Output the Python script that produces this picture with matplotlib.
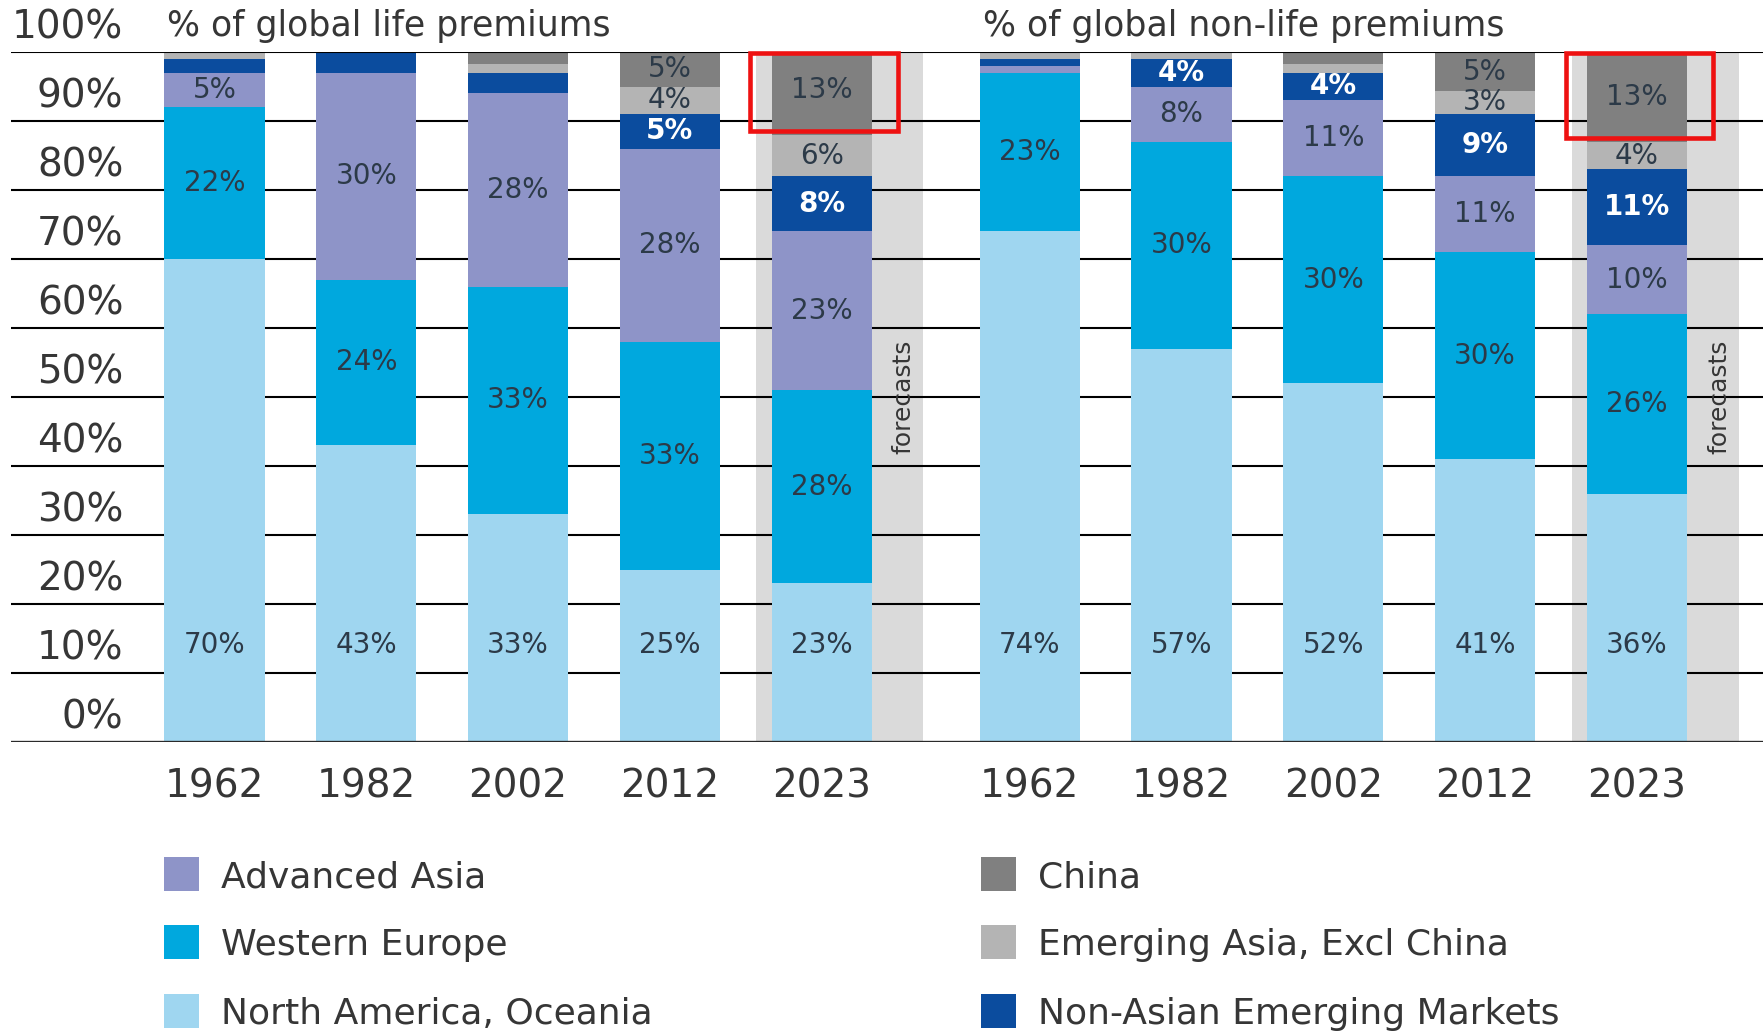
import numpy as np
import matplotlib.pyplot as plt
from matplotlib.patches import Rectangle
from matplotlib.transforms import blended_transform_factory

# Datos (en %), de abajo hacia arriba en cada barra
years = ['1962', '1982', '2002', '2012', '2023']
regions = ['North America, Oceania', 'Western Europe', 'Advanced Asia',
           'Non-Asian Emerging Markets', 'Emerging Asia, Excl China', 'China']

life_na = [70, 43, 33, 25, 23]
life_we = [22, 24, 33, 33, 28]
life_aa = [5, 30, 28, 28, 23]
life_naem = [2, 2.8, 2.9, 5, 8]
life_ea = [1, 0.2, 1.3, 4, 6]
life_cn = [0, 0, 1.8, 5, 13]

nonlife_na = [74, 57, 52, 41, 36]
nonlife_we = [23, 30, 30, 30, 26]
nonlife_aa = [1, 8, 11, 11, 10]
nonlife_naem = [1, 4, 4, 9, 11]
nonlife_ea = [1, 1, 1.3, 3.4, 4]
nonlife_cn = [0, 0, 1.7, 5.4, 13]

titles = ['% of global life premiums', '% of global non-life premiums']

colors = {
    'North America, Oceania': '#9fd6f0',
    'Western Europe': '#00a8de',
    'Advanced Asia': '#8e94c8',
    'Non-Asian Emerging Markets': '#0b4c9e',
    'Emerging Asia, Excl China': '#b4b4b4',
    'China': '#808080',
}
legend_cols = [['Advanced Asia', 'Western Europe', 'North America, Oceania'],
               ['China', 'Emerging Asia, Excl China', 'Non-Asian Emerging Markets']]

txt = '#363636'
W, H = 1763, 1032
fig = plt.figure(figsize=(W / 100, H / 100), dpi=100)
ax = fig.add_axes([11 / W, 1 - 742 / H, 1 - 11 / W, (742 - 52) / H])
ax.set_xlim(-1.34, 10.2)
ax.set_ylim(0, 100)
ax.axis('off')

panels = [
    (np.arange(5), [life_na, life_we, life_aa, life_naem, life_ea, life_cn]),
    (np.arange(5) + 5.37, [nonlife_na, nonlife_we, nonlife_aa, nonlife_naem, nonlife_ea, nonlife_cn]),
]

# lineas horizontales
for v in range(10, 100, 10):
    ax.axhline(v, color='black', lw=1.5, zorder=1)
ax.axhline(100, color='black', lw=1.5, zorder=5)
ax.axhline(0, color='#2a2a2a', lw=2.4, zorder=5)

# etiquetas del eje y
for v in range(0, 101, 10):
    ax.text(-0.6, v + 1.9, f'{v}%', ha='right', va='baseline', fontsize=28, color=txt)

xt = blended_transform_factory(ax.transData, ax.transAxes)
bw = 0.66
for (xs, series), title in zip(panels, titles):
    # banda de pronostico
    ax.add_patch(Rectangle((xs[-1] - 0.43, 0), 1.1, 100, color='#dadada', lw=0, zorder=0.5))
    ax.text(xs[-1] + 0.54, 50, 'forecasts', rotation=90, ha='center', va='center',
            fontsize=18, color=txt, zorder=6)
    bottom = np.zeros(len(xs))
    for name, vals in zip(regions, series):
        vals = np.array(vals, dtype=float)
        ax.bar(xs, vals, width=bw, bottom=bottom, color=colors[name], lw=0, zorder=2)
        for x, b, v in zip(xs, bottom, vals):
            if v < 3:
                continue
            y = 14 if name == regions[0] else b + v / 2
            white = name == 'Non-Asian Emerging Markets'
            ax.text(x, y, f'{v:.0f}%', ha='center', va='center', fontsize=20,
                    color='white' if white else '#2c3a48',
                    fontweight='bold' if white else 'normal', zorder=6)
        bottom += vals
    # recuadro rojo sobre China 2023
    base = bottom[-1] - series[-1][-1]
    ax.add_patch(Rectangle((xs[-1] - 0.47, base + 0.5), 0.97, 100 - base - 0.6,
                           fill=False, ec='#ee1111', lw=3.3, zorder=7, clip_on=False))
    for x, yr in zip(xs, years):
        ax.text(x, -0.08, yr, transform=xt, ha='center', va='baseline', fontsize=28, color=txt)
    ax.text(xs[0] - bw / 2 + 0.02, 102.3, title, ha='left', va='baseline', fontsize=25, color=txt)

# leyenda manual
col_x = [164, 981]
row_y = [874, 942, 1011]
for cx, names in zip(col_x, legend_cols):
    for ry, name in zip(row_y, names):
        fig.patches.append(Rectangle((cx / W, 1 - (ry + 17) / H), 35 / W, 34 / H,
                                     transform=fig.transFigure, color=colors[name], lw=0))
        fig.text((cx + 57) / W, 1 - (ry + 13) / H, name, ha='left', va='baseline',
                 fontsize=26, color=txt)

fig.savefig('out.png', dpi=100)
